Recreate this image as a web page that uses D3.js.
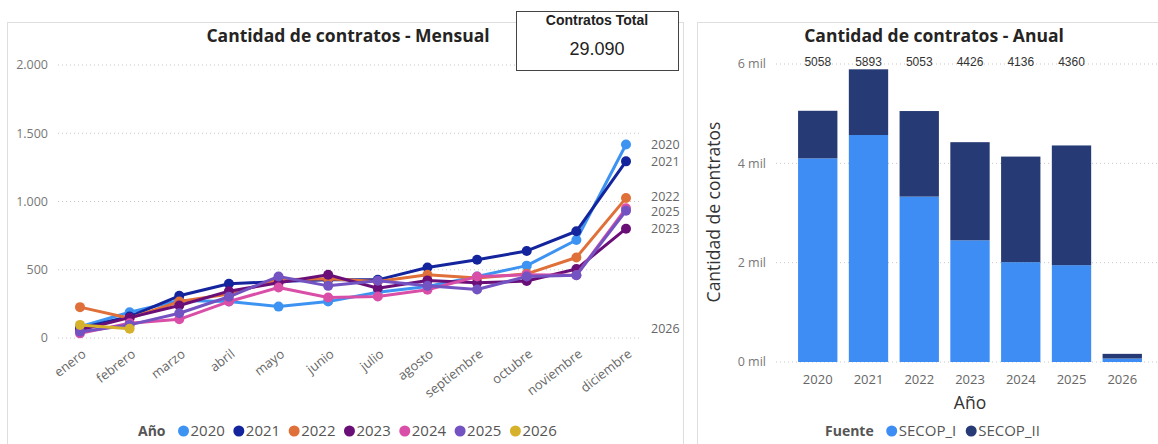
<!DOCTYPE html>
<html><head><meta charset="utf-8">
<script src="https://cdn.jsdelivr.net/npm/d3@7"></script>
<style>
body{margin:0;background:#fff;}
svg{display:block;font-family:"Open Sans","Noto Sans",sans-serif;}
</style></head>
<body><svg id="c" width="1158" height="444"></svg>
<script>
// ---- Data ----
const months = ["enero","febrero","marzo","abril","mayo","junio","julio","agosto","septiembre","octubre","noviembre","diciembre"];
const years = ["2020","2021","2022","2023","2024","2025","2026"];
const v2020 = [83,189,275,267,230,267,335,377,451,530,718,1418];
const v2021 = [71,157,309,397,414,426,426,517,573,638,782,1294];
const v2022 = [226,145,267,322,426,434,414,463,440,470,590,1025];
const v2023 = [59,149,238,343,404,463,365,422,405,417,505,801];
const v2024 = [34,108,137,267,370,297,304,353,450,463,460,950];
const v2025 = [46,96,181,302,451,382,419,382,355,451,460,932];
const v2026 = [96,68];
const endLabelYears = ["2020","2021","2022","2023","2025","2026"];
const leftTicks = [0,500,1000,1500,2000];
const leftTickLabels = ["0","500","1.000","1.500","2.000"];
const kpiValue = "29.090";

const annualYears = ["2020","2021","2022","2023","2024","2025","2026"];
const secopI  = [4100,4570,3330,2450,2010,1950,70];
const secopII = [958,1323,1723,1976,2126,2410,94];
const totalLabels = ["5058","5893","5053","4426","4136","4360"];
const rightTicks = [0,2000,4000,6000];
const rightTickLabels = ["0 mil","2 mil","4 mil","6 mil"];
const fuentes = ["SECOP_I","SECOP_II"];

const yearColors = ["#3D93F2","#13249C","#E0703A","#6A0F78","#D94FA7","#7352C2","#D6B12C"];
const fuenteColors = ["#3D8DF4","#263B76"];

const svg = d3.select("#c");

// ---- Panels ----
svg.append("rect").attr("x",7.5).attr("y",22.5).attr("width",676).attr("height",440)
  .attr("fill","#fff").attr("stroke","#dedede");
svg.append("rect").attr("x",697.5).attr("y",22.5).attr("width",480).attr("height",440)
  .attr("fill","#fff").attr("stroke","#dedede");

// ---- Left: monthly lines ----
const series = [v2020,v2021,v2022,v2023,v2024,v2025,v2026];
const x = d3.scalePoint().domain(months).range([80,626]);
const y = d3.scaleLinear().domain([0,2000]).range([338,65]);

const gL = svg.append("g");
gL.selectAll("line.grid").data(leftTicks).join("line")
  .attr("x1",58).attr("x2",640).attr("y1",d=>y(d)).attr("y2",d=>y(d))
  .attr("stroke","#c8c8c8").attr("stroke-dasharray","1,3");
gL.selectAll("text.yt").data(leftTicks).join("text")
  .attr("x",48).attr("y",d=>y(d)).attr("dy","0.35em").attr("text-anchor","end")
  .attr("font-size",12.5).attr("fill","#777").text((d,i)=>leftTickLabels[i]);
gL.selectAll("text.xt").data(months).join("text")
  .attr("text-anchor","end").attr("font-size",13).attr("fill","#666")
  .attr("transform",d=>`translate(${x(d)+4},${352}) rotate(-38)`)
  .attr("dy","0.35em").text(d=>d);

const line = d3.line().x((d,i)=>x(months[i])).y(d=>y(d));
series.forEach((s,k)=>{
  const g = gL.append("g");
  g.append("path").datum(s).attr("d",line).attr("fill","none")
    .attr("stroke",yearColors[k]).attr("stroke-width",3).attr("stroke-linejoin","round");
  g.selectAll("circle").data(s).join("circle")
    .attr("cx",(d,i)=>x(months[i])).attr("cy",d=>y(d)).attr("r",5).attr("fill",yearColors[k]);
});
// end labels with simple collision avoidance
const ends = years.map((yr,k)=>({yr, v:series[k][series[k].length-1]}))
  .filter(d=>endLabelYears.includes(d.yr))
  .map(d=>({yr:d.yr, py:y(d.v)})).sort((a,b)=>a.py-b.py);
for(let i=1;i<ends.length;i++){
  if(ends[i].py-ends[i-1].py<15){ const mid=(ends[i].py+ends[i-1].py)/2; ends[i-1].py=mid-7.5; ends[i].py=mid+7.5; }
}
ends.forEach(d=>{
  gL.append("text").attr("x",651).attr("y",d.py).attr("dy","0.35em")
    .attr("font-size",12.5).attr("fill","#666").text(d.yr);
});

svg.append("text").attr("x",348).attr("y",42).attr("text-anchor","middle")
  .attr("font-size",17.5).attr("font-weight",700).attr("fill","#252423")
  .text("Cantidad de contratos - Mensual");

// left legend
const legL = svg.append("g");
let lx = 138;
const t0 = legL.append("text").attr("x",lx).attr("y",431).attr("dy","0.35em")
  .attr("font-size",14).attr("font-weight",700).attr("fill","#555").text("Año");
lx += t0.node().getComputedTextLength()+13;
years.forEach((yr,k)=>{
  legL.append("circle").attr("cx",lx+5).attr("cy",431).attr("r",5.5).attr("fill",yearColors[k]);
  const t = legL.append("text").attr("x",lx+12).attr("y",431).attr("dy","0.35em")
    .attr("font-size",15).attr("fill","#555").text(yr);
  lx += 12 + t.node().getComputedTextLength() + 9;
});

// KPI card
svg.append("rect").attr("x",516.5).attr("y",11.5).attr("width",162).attr("height",59)
  .attr("fill","#fff").attr("stroke","#444");
svg.append("text").attr("x",597).attr("y",25).attr("text-anchor","middle")
  .attr("font-family","Liberation Sans, Arial, sans-serif").attr("font-weight",700)
  .attr("font-size",14).attr("fill","#222").text("Contratos Total");
svg.append("text").attr("x",597).attr("y",55).attr("text-anchor","middle")
  .attr("font-family","Liberation Sans, Arial, sans-serif")
  .attr("font-size",18).attr("fill","#222").text(kpiValue);

// ---- Right: annual stacked bars ----
const xb = d3.scaleBand().domain(annualYears).range([793,1147]).paddingInner(0.225).paddingOuter(0.1);
const yb = d3.scaleLinear().domain([0,6000]).range([362,64]);
const gR = svg.append("g");
gR.selectAll("line.grid").data(rightTicks).join("line")
  .attr("x1",776).attr("x2",1158).attr("y1",d=>yb(d)).attr("y2",d=>yb(d))
  .attr("stroke","#c8c8c8").attr("stroke-dasharray","1,3");
gR.selectAll("text.yt").data(rightTicks).join("text")
  .attr("x",766).attr("y",d=>yb(d)).attr("dy","0.35em").attr("text-anchor","end")
  .attr("font-size",12.5).attr("fill","#777").text((d,i)=>rightTickLabels[i]);

const table = annualYears.map((yr,i)=>({year:yr, SECOP_I:secopI[i], SECOP_II:secopII[i]}));
const stacked = d3.stack().keys(fuentes)(table);
stacked.forEach((layer,k)=>{
  gR.append("g").selectAll("rect").data(layer).join("rect")
    .attr("x",d=>xb(d.data.year)).attr("width",xb.bandwidth())
    .attr("y",d=>yb(d[1])).attr("height",d=>yb(d[0])-yb(d[1]))
    .attr("fill",fuenteColors[k]);
});
gR.selectAll("text.tot").data(totalLabels).join("text")
  .attr("x",(d,i)=>xb(annualYears[i])+xb.bandwidth()/2).attr("y",62).attr("dy","0.35em")
  .attr("text-anchor","middle").attr("font-family","Liberation Sans, Arial, sans-serif")
  .attr("font-size",12).attr("fill","#333").text(d=>d);
gR.selectAll("text.xt").data(annualYears).join("text")
  .attr("x",d=>xb(d)+xb.bandwidth()/2).attr("y",379).attr("dy","0.35em")
  .attr("text-anchor","middle").attr("font-size",13).attr("fill","#666").text(d=>d);
svg.append("text").attr("x",970).attr("y",403).attr("dy","0.35em").attr("text-anchor","middle")
  .attr("font-size",17.5).attr("fill","#333").text("Año");
svg.append("text").attr("transform","translate(714,212) rotate(-90)").attr("dy","0.35em")
  .attr("text-anchor","middle").attr("font-size",17.5).attr("fill","#333").text("Cantidad de contratos");
svg.append("text").attr("x",934).attr("y",42).attr("text-anchor","middle")
  .attr("font-size",17.5).attr("font-weight",700).attr("fill","#252423")
  .text("Cantidad de contratos - Anual");

// right legend
const legR = svg.append("g");
let rx = 825;
const r0 = legR.append("text").attr("x",rx).attr("y",431).attr("dy","0.35em")
  .attr("font-size",14).attr("font-weight",700).attr("fill","#555").text("Fuente");
rx += r0.node().getComputedTextLength()+13;
fuentes.forEach((f,k)=>{
  legR.append("circle").attr("cx",rx+5).attr("cy",431).attr("r",5.5).attr("fill",fuenteColors[k]);
  const t = legR.append("text").attr("x",rx+12).attr("y",431).attr("dy","0.35em")
    .attr("font-size",15).attr("fill","#555").text(f);
  rx += 12 + t.node().getComputedTextLength() + 10;
});
</script></body></html>
